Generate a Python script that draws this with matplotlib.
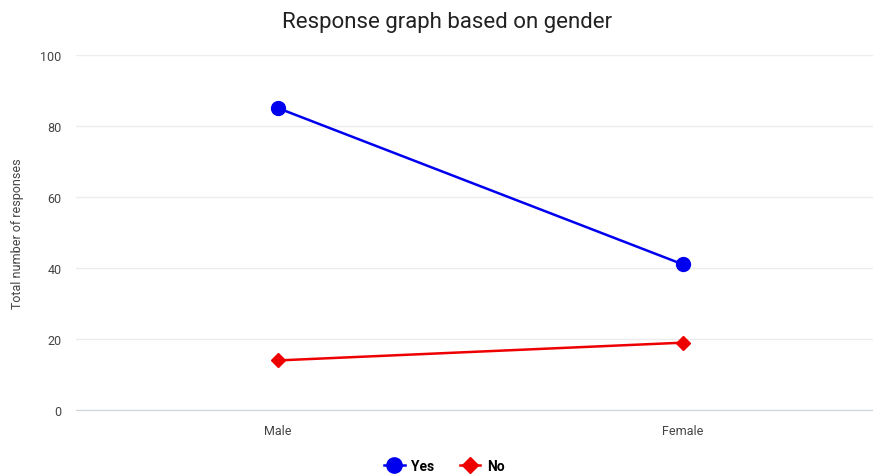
import matplotlib.pyplot as plt

# Chart data
categories = ["Male", "Female"]
yes_counts = [85, 41]
no_counts = [14, 19]
y_ticks = [0, 20, 40, 60, 80, 100]

plt.rcParams['font.family'] = ['Roboto', 'DejaVu Sans']

fig = plt.figure(figsize=(8.73, 4.77), dpi=100)
ax = fig.add_axes([0.0865, 0.138, 0.928, 0.745])

x = list(range(len(categories)))
ax.plot(x, yes_counts, color='#0000ee', marker='o', markersize=10, linewidth=1.8, label='Yes')
ax.plot(x, no_counts, color='#ee0000', marker='D', markersize=7, linewidth=1.8, label='No')

ax.set_xlim(-0.5, 1.5)
ax.set_ylim(0, 100)
ax.set_xticks(x)
ax.set_xticklabels(categories)
ax.set_yticks(y_ticks)
ax.tick_params(axis='both', length=0, labelsize=9, colors='#444444', pad=10)
ax.grid(axis='y', color='#ececec', linewidth=1)
ax.set_axisbelow(True)
for side in ['top', 'right', 'left']:
    ax.spines[side].set_visible(False)
ax.spines['bottom'].set_color('#c9d3dc')

ax.set_ylabel('Total number of responses', fontsize=9, color='#444444', labelpad=12)
fig.text(0.512, 0.953, 'Response graph based on gender', ha='center', va='center', fontsize=16, color='#222222')

fig.legend(loc='lower center', bbox_to_anchor=(0.509, -0.02), ncol=2, frameon=False,
           prop={'weight': 'bold', 'size': 10}, handlelength=1.5, handletextpad=0.5,
           columnspacing=1.8, markerscale=1.1)

fig.savefig('out.png', dpi=100)
